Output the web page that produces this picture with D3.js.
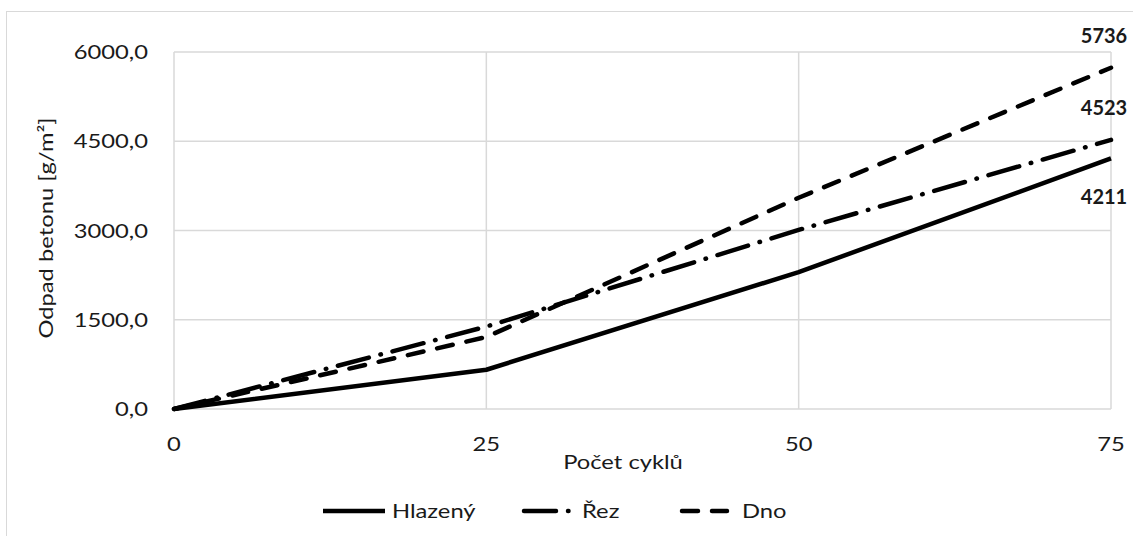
<!DOCTYPE html>
<html>
<head>
<meta charset="utf-8">
<script src="https://cdn.jsdelivr.net/npm/d3@7"></script>
<style>
  html, body { margin: 0; padding: 0; background: #fff; }
  svg { display: block; }
  text { font-family: Lato, "Open Sans", sans-serif; fill: #1a1a1a; }
</style>
</head>
<body>
<svg id="chart" width="1133" height="536"></svg>
<script>
// Freeze–thaw scaling: mass loss per area against number of cycles
const cycles = [0, 25, 50, 75];
const hlazeny = [0, 660, 2300, 4211];
const rez = [0, 1385, 3010, 4523];
const dno = [0, 1210, 3550, 5736];
const yTicks = [0, 1500, 3000, 4500, 6000];
const xTicks = [0, 25, 50, 75];
const seriesNames = ["Hlazený", "Řez", "Dno"];

const series = [
  { name: seriesNames[0], values: hlazeny, dash: null, labelDy: 38 },
  { name: seriesNames[1], values: rez, dash: "32,12,0.5,12", labelDy: -33 },
  { name: seriesNames[2], values: dno, dash: "16,14", labelDy: -33 }
];

const svg = d3.select("#chart");
const W = 1133, H = 536;
const plot = { left: 174, right: 1111, top: 52, bottom: 409 };
const SX = 1.25; // horizontal stretch of the regular text

const x = d3.scaleLinear().domain([0, 75]).range([plot.left, plot.right]);
const y = d3.scaleLinear().domain([0, 6000]).range([plot.bottom, plot.top]);

// outer chart frame
svg.append("rect")
  .attr("x", 6.5).attr("y", 11.5)
  .attr("width", W).attr("height", H)
  .attr("fill", "none").attr("stroke", "#d9d9d9").attr("stroke-width", 1);

// gridlines
const grid = svg.append("g").attr("stroke", "#d9d9d9").attr("stroke-width", 1.5);
grid.selectAll("line.h").data(yTicks).join("line")
  .attr("x1", plot.left).attr("x2", plot.right)
  .attr("y1", d => y(d)).attr("y2", d => y(d));
grid.selectAll("line.v").data(xTicks).join("line")
  .attr("y1", plot.top).attr("y2", plot.bottom)
  .attr("x1", d => x(d)).attr("x2", d => x(d));

function stretchedText(g, tx, ty, str, anchor, size) {
  return g.append("text")
    .attr("transform", `translate(${tx},${ty}) scale(${SX},1)`)
    .attr("text-anchor", anchor)
    .attr("dominant-baseline", "central")
    .style("font-size", size + "px")
    .text(str);
}

// y tick labels
const fmt = v => d3.format(".1f")(v).replace(".", ",");
const yAx = svg.append("g");
yTicks.forEach(v => stretchedText(yAx, 148, y(v), fmt(v), "end", 19));

// x tick labels
const xAx = svg.append("g");
xTicks.forEach(v => stretchedText(xAx, x(v), 444, String(v), "middle", 19));

// axis titles
stretchedText(svg, 623, 462, "Počet cyklů", "middle", 19);
svg.append("text")
  .attr("transform", `translate(46,228) rotate(-90) scale(${SX},1)`)
  .attr("text-anchor", "middle")
  .attr("dominant-baseline", "central")
  .style("font-size", "19px")
  .text("Odpad betonu [g/m²]");

// series lines
const line = d3.line().x((d, i) => x(cycles[i])).y(d => y(d));
const lines = svg.append("g");
series.forEach(s => {
  lines.append("path")
    .attr("d", line(s.values))
    .attr("fill", "none")
    .attr("stroke", "#000")
    .attr("stroke-width", 4.5)
    .attr("stroke-linecap", s.dash ? "round" : "butt")
    .attr("stroke-linejoin", "round")
    .attr("stroke-dasharray", s.dash);
});

// end value labels
series.forEach(s => {
  const last = s.values[s.values.length - 1];
  svg.append("text")
    .attr("x", x(cycles[cycles.length - 1]) - 7)
    .attr("y", y(last) + s.labelDy)
    .attr("text-anchor", "middle")
    .attr("dominant-baseline", "central")
    .style("font-size", "20px")
    .style("font-weight", "bold")
    .text(d3.format("d")(last));
});

// legend
const legendItems = [
  { s: series[0], x1: 323, x2: 385, tx: 392 },
  { s: series[1], x1: 524, x2: 578, tx: 582 },
  { s: series[2], x1: 682, x2: 727, tx: 742 }
];
const lg = svg.append("g");
const ly = 511;
legendItems.forEach(it => {
  lg.append("line")
    .attr("x1", it.x1).attr("x2", it.x2)
    .attr("y1", ly).attr("y2", ly)
    .attr("stroke", "#000").attr("stroke-width", 4.5)
    .attr("stroke-linecap", it.s.dash ? "round" : "butt")
    .attr("stroke-dasharray", it.s.dash);
  stretchedText(lg, it.tx, ly, it.s.name, "start", 19);
});
</script>
</body>
</html>
